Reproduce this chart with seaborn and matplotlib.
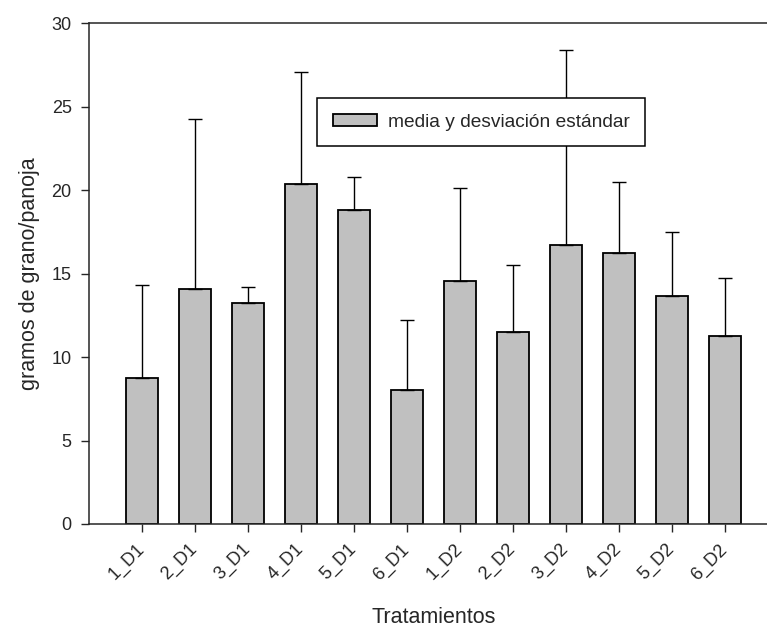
import numpy as np
import pandas as pd
from matplotlib import pyplot as plt
import seaborn as sns

# datos: media y desviacion estandar por tratamiento
tratamientos = ['1_D1', '2_D1', '3_D1', '4_D1', '5_D1', '6_D1',
                '1_D2', '2_D2', '3_D2', '4_D2', '5_D2', '6_D2']
media = [8.72, 14.05, 13.23, 20.34, 18.78, 8.02,
         14.57, 11.50, 16.73, 16.25, 13.67, 11.26]
desv = [5.61, 10.18, 0.98, 6.73, 1.98, 4.20,
        5.57, 4.01, 11.67, 4.25, 3.82, 3.45]

df = pd.DataFrame({'Tratamientos': tratamientos, 'media': media, 'desv': desv})

sns.set_style('ticks')
plt.rcParams['font.family'] = ['Liberation Sans', 'DejaVu Sans']

W, H = 767, 630
fig = plt.figure(figsize=(W / 100, H / 100), dpi=100)
# eje: izquierda 89px, abajo 524px, arriba 23px, derecha fuera del lienzo
ax = fig.add_axes([89 / W, 1 - 524 / H, (778 - 89) / W, (524 - 23) / H])

sns.barplot(data=df, x='Tratamientos', y='media', ax=ax, color='#c0c0c0',
            edgecolor='black', linewidth=1.3, width=0.6, errorbar=None,
            saturation=1, label='media y desviación estándar')
x = np.arange(len(tratamientos))
ax.errorbar(x, df.media, yerr=[np.zeros(len(desv)), df.desv], fmt='none',
            ecolor='black', elinewidth=1.0, capsize=5, capthick=1.0, zorder=1)

ax.set_xlim(-1, 12)
ax.set_ylim(0, 30)
ax.set_yticks(range(0, 31, 5))
ax.spines['right'].set_visible(False)
for s in ['left', 'bottom', 'top']:
    ax.spines[s].set_linewidth(1.1)
ax.tick_params(axis='both', direction='out', length=5.5, width=1.0, labelsize=13)
ax.tick_params(axis='y', pad=7)
ax.tick_params(axis='x', pad=11)
plt.setp(ax.get_xticklabels(), rotation=45, ha='right', va='center', rotation_mode='anchor')

ax.set_xlabel('Tratamientos', fontsize=15.5, labelpad=17)
ax.set_ylabel('gramos de grano/panoja', fontsize=15.5, labelpad=8)

leg = ax.legend(loc='upper left', bbox_to_anchor=(317 / W, 1 - 98 / H),
                bbox_transform=fig.transFigure, fontsize=13.8, frameon=True,
                fancybox=False, borderpad=0.82, handlelength=2.3, handleheight=0.62,
                handletextpad=0.57, borderaxespad=0)
leg.get_frame().set_edgecolor('black')
leg.get_frame().set_linewidth(1.1)
leg.get_frame().set_alpha(1)

fig.savefig('out.png', dpi=100)
